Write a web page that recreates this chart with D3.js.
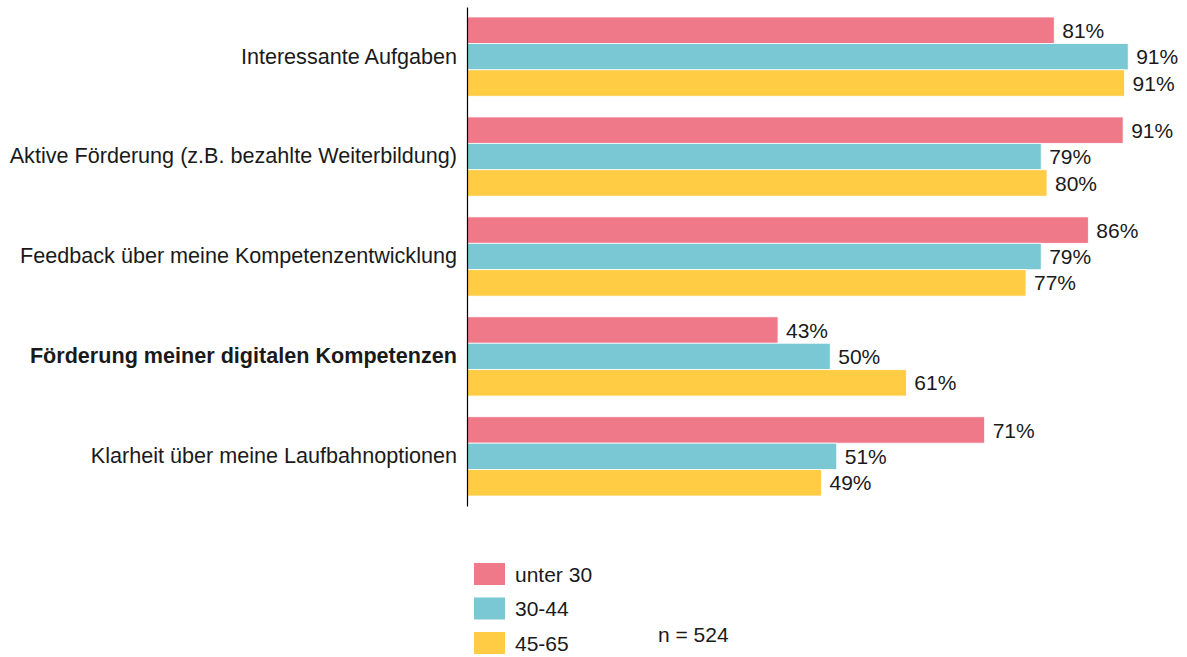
<!DOCTYPE html>
<html>
<head>
<meta charset="utf-8">
<script src="https://cdn.jsdelivr.net/npm/d3@7"></script>
<style>
  body { margin: 0; background: #fff; }
  text { font-family: "Liberation Sans", Arial, sans-serif; fill: #1a1a1a; }
</style>
</head>
<body>
<div id="chart"></div>
<script>
// categories and series (values in %)
const categories = [
    "Interessante Aufgaben",
    "Aktive Förderung (z.B. bezahlte Weiterbildung)",
    "Feedback über meine Kompetenzentwicklung",
    "Förderung meiner digitalen Kompetenzen",
    "Klarheit über meine Laufbahnoptionen"
];
const seriesNames = ["unter 30", "30-44", "45-65"];
const under30 = [81.0, 90.5, 85.7, 42.9, 71.4];
const age30to44 = [91.2, 79.2, 79.2, 50.1, 51.0];
const age45to65 = [90.7, 80.0, 77.1, 60.6, 48.9];
const boldCategory = "Förderung meiner digitalen Kompetenzen";
const sampleNote = "n = 524";

const colors = ["#F07989", "#79C8D3", "#FFCC44"];
const series = [under30, age30to44, age45to65];

const width = 1187;
const height = 657;

const svg = d3.select("#chart")
    .append("svg")
    .attr("width", width)
    .attr("height", height);

const x = d3.scaleLinear()
    .domain([0, 100])
    .range([467, 1192]);

const y = d3.scaleBand()
    .domain(categories)
    .range([7, 506])
    .paddingInner(0.207)
    .paddingOuter(0.1);

const y1 = d3.scaleBand()
    .domain(d3.range(seriesNames.length))
    .range([0, y.bandwidth()]);

const groups = svg.selectAll(".group")
    .data(categories)
    .enter()
    .append("g")
    .attr("class", "group")
    .attr("transform", d => `translate(0,${y(d)})`);

groups.selectAll("rect")
    .data((d, i) => series.map((s, j) => ({ j: j, v: s[i] })))
    .enter()
    .append("rect")
    .attr("x", x(0))
    .attr("y", d => y1(d.j))
    .attr("width", d => x(d.v) - x(0))
    .attr("height", y1.bandwidth())
    .attr("fill", d => colors[d.j])
    .attr("stroke", "#fff")
    .attr("stroke-width", 0.8);

groups.selectAll(".value")
    .data((d, i) => series.map((s, j) => ({ j: j, v: s[i] })))
    .enter()
    .append("text")
    .attr("class", "value")
    .attr("x", d => x(d.v) + 8)
    .attr("y", d => y1(d.j) + y1.bandwidth() / 2)
    .attr("dy", "0.36em")
    .style("font-size", "21px")
    .text(d => Math.round(d.v) + "%");

// category labels
const yAxis = d3.axisLeft(y).tickSize(0).tickPadding(10);
const axisG = svg.append("g")
    .attr("transform", `translate(${x(0)},0)`)
    .call(yAxis);
axisG.select(".domain").attr("stroke", "#000").attr("stroke-width", 1.2);
axisG.selectAll(".tick text")
    .style("font-size", "21.6px")
    .style("font-family", "'Liberation Sans', Arial, sans-serif")
    .style("font-weight", d => d === boldCategory ? "bold" : "normal")
    .attr("fill", "#1a1a1a");

// legend
const legend = svg.append("g").attr("transform", "translate(474,563)");
const item = legend.selectAll(".item")
    .data(seriesNames)
    .enter()
    .append("g")
    .attr("transform", (d, i) => `translate(0,${i * 34.5})`);
item.append("rect")
    .attr("width", 31)
    .attr("height", 22)
    .attr("fill", (d, i) => colors[i]);
item.append("text")
    .attr("x", 41)
    .attr("y", 11)
    .attr("dy", "0.36em")
    .style("font-size", "21px")
    .text(d => d);

svg.append("text")
    .attr("x", 658)
    .attr("y", 642)
    .style("font-size", "21px")
    .text(sampleNote);
</script>
</body>
</html>
